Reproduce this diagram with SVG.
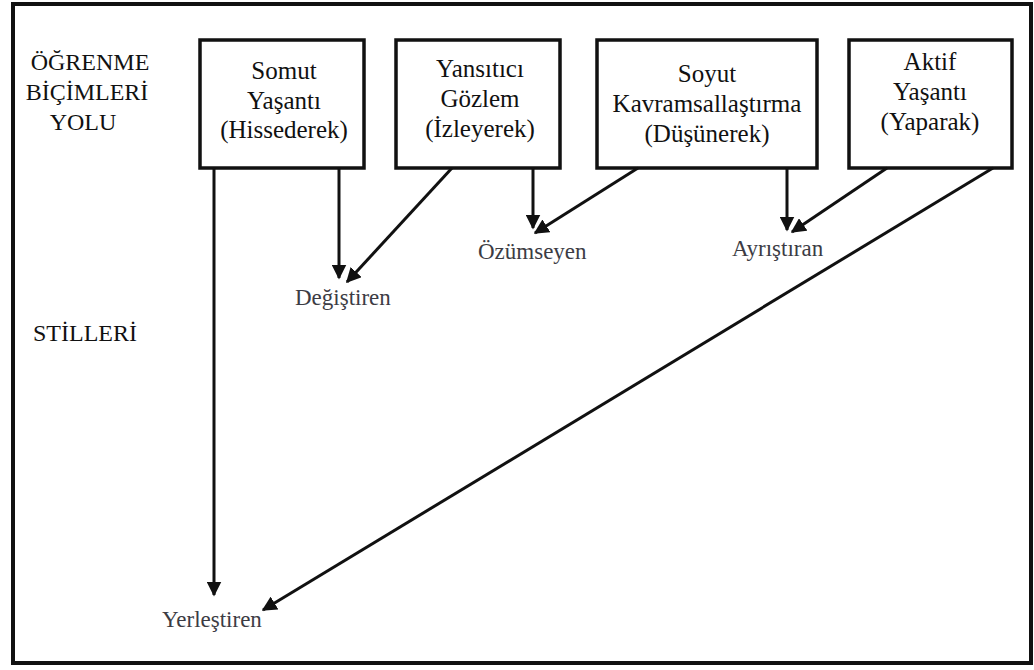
<svg xmlns="http://www.w3.org/2000/svg" width="1034" height="670" viewBox="0 0 1034 670">
<style>
.frame{fill:#fff;stroke:#111;stroke-width:4}
.box{fill:#fff;stroke:#111;stroke-width:3.5}
text{font-family:'Liberation Serif','DejaVu Serif',serif}
.bt{font-size:25px;fill:#111;text-anchor:middle}
.lt{font-size:24px;fill:#111;text-anchor:middle}
.ot{font-size:23px;fill:#3c3c44;text-anchor:start}
.ln{stroke:#111;stroke-width:3;fill:none;marker-end:url(#ah)}
</style>
<defs>
<marker id="ah" viewBox="0 0 10 10" refX="9" refY="5" markerWidth="5" markerHeight="5" markerUnits="strokeWidth" orient="auto">
<path d="M0,0 L10,5 L0,10 Z" fill="#111"/>
</marker>
</defs>
<rect class="frame" x="13" y="4" width="1018" height="659"/>
<g id="labels-left">
<text class="lt" x="90" y="70">ÖĞRENME</text>
<text class="lt" x="87" y="100">BİÇİMLERİ</text>
<text class="lt" x="83" y="130">YOLU</text>
<text class="lt" x="85" y="341">STİLLERİ</text>
</g>
<g id="n1">
<rect class="box" x="200" y="40" width="164" height="128"/>
<text class="bt" x="284" y="79">Somut</text>
<text class="bt" x="284" y="109">Yaşantı</text>
<text class="bt" x="284" y="138">(Hissederek)</text>
</g>
<g id="n2">
<rect class="box" x="396" y="40" width="164" height="128"/>
<text class="bt" x="480" y="77">Yansıtıcı</text>
<text class="bt" x="480" y="107">Gözlem</text>
<text class="bt" x="480" y="137">(İzleyerek)</text>
</g>
<g id="n3">
<rect class="box" x="597" y="40" width="220" height="128"/>
<text class="bt" x="707" y="82">Soyut</text>
<text class="bt" x="707" y="112">Kavramsallaştırma</text>
<text class="bt" x="707" y="142">(Düşünerek)</text>
</g>
<g id="n4">
<rect class="box" x="849" y="40" width="163" height="128"/>
<text class="bt" x="930" y="70">Aktif</text>
<text class="bt" x="930" y="100">Yaşantı</text>
<text class="bt" x="930" y="130">(Yaparak)</text>
</g>
<g id="o1"><text class="ot" x="295" y="305">Değiştiren</text></g>
<g id="o2"><text class="ot" x="478" y="259">Özümseyen</text></g>
<g id="o3"><text class="ot" x="732" y="256">Ayrıştıran</text></g>
<g id="o4"><text class="ot" x="162" y="627">Yerleştiren</text></g>
<g id="connectors">
<line class="ln" x1="214" y1="168" x2="214" y2="595"/>
<line class="ln" x1="339" y1="168" x2="339" y2="278"/>
<line class="ln" x1="452" y1="168" x2="347" y2="282"/>
<line class="ln" x1="533" y1="168" x2="533" y2="228"/>
<line class="ln" x1="638" y1="168" x2="535" y2="233"/>
<line class="ln" x1="787" y1="168" x2="787" y2="230"/>
<line class="ln" x1="887" y1="168" x2="792" y2="232"/>
<line class="ln" x1="993" y1="168" x2="263" y2="610"/>
</g>
</svg>
